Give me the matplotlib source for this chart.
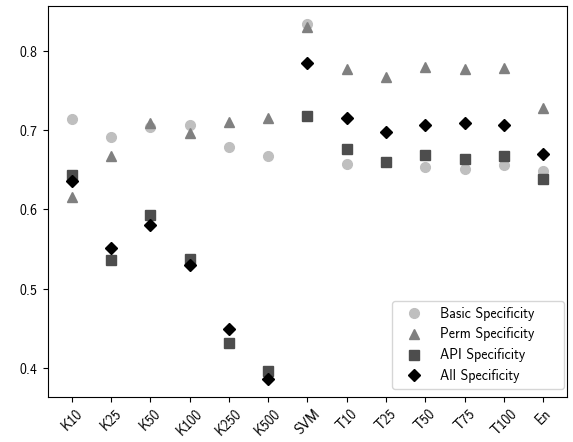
import numpy as np
import matplotlib
matplotlib.use('Agg')
import matplotlib.pyplot as plt

plt.rcParams['font.family'] = ['cmss10', 'DejaVu Sans']
plt.rcParams['axes.formatter.use_mathtext'] = True

labels = ['K10', 'K25', 'K50', 'K100', 'K250', 'K500', 'SVM',
          'T10', 'T25', 'T50', 'T75', 'T100', 'En']

basic = [0.714, 0.692, 0.704, 0.706, 0.679, 0.668, 0.834,
         0.657, 0.660, 0.653, 0.651, 0.656, 0.649]
perm = [0.616, 0.668, 0.709, 0.697, 0.710, 0.715, 0.830,
        0.777, 0.767, 0.780, 0.777, 0.778, 0.728]
api = [0.643, 0.536, 0.593, 0.537, 0.431, 0.396, 0.718,
       0.676, 0.660, 0.669, 0.664, 0.668, 0.638]
all_spec = [0.636, 0.551, 0.581, 0.530, 0.449, 0.386, 0.785,
            0.716, 0.698, 0.707, 0.709, 0.706, 0.670]

x = np.arange(len(labels))

fig = plt.figure(figsize=(5.73, 4.42), dpi=100)
ax = fig.add_axes([0.084, 0.102, 0.905, 0.884])

ax.plot(x, basic, 'o', color='#bfbfbf', ms=7, label='Basic Specificity')
ax.plot(x, perm, '^', color='#808080', ms=7.5, label='Perm Specificity')
ax.plot(x, api, 's', color='#4d4d4d', ms=6.5, label='API Specificity')
ax.plot(x, all_spec, 'D', color='black', ms=6.5, label='All Specificity')

ax.set_xticks(x)
ax.set_xticklabels(labels, rotation=45)
ax.set_yticks([0.4, 0.5, 0.6, 0.7, 0.8])
ax.legend(loc='lower left', bbox_to_anchor=(0.663, 0.0205, 0.331, 0.2),
          mode='expand', borderaxespad=0, handlelength=2.4, handletextpad=0.66)

fig.savefig('out.png', dpi=100)
